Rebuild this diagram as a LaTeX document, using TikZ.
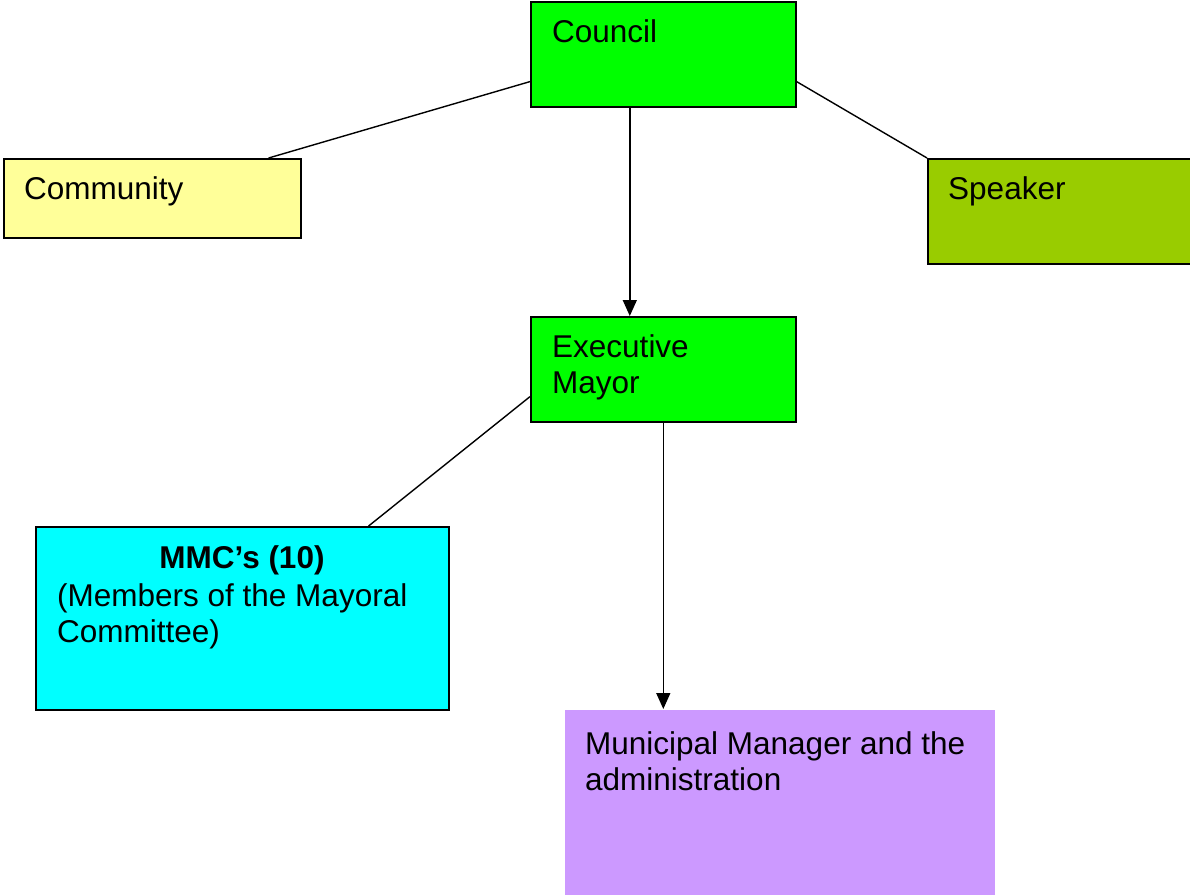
\documentclass[tikz,border=0pt]{standalone}
\usepackage{fontspec}
\setmainfont{Liberation Sans}
\usetikzlibrary{arrows.meta,calc}
\definecolor{cgreen}{HTML}{00FF00}
\definecolor{cyellow}{HTML}{FFFF99}
\definecolor{colive}{HTML}{99CC00}
\definecolor{ccyan}{HTML}{00FFFF}
\definecolor{clilac}{HTML}{CC99FF}
\begin{document}
\begin{tikzpicture}[x=1pt,y=-1pt,
  box/.style={rectangle,draw=black,line width=1.6pt,inner sep=0pt,anchor=north west},
  txt/.style={anchor=base west,inner sep=0pt,font=\fontsize{31.5}{36}\selectfont},
  link/.style={line width=1.4pt,draw=black},
  arr/.style={link,-{Triangle[length=16pt,width=14pt]}}]
\useasboundingbox (0,0) rectangle (1190,894);
% boxes
\node[box,fill=cgreen,minimum width=265pt,minimum height=105pt] (council) at (530,1) {};
\node[box,fill=cyellow,minimum width=297pt,minimum height=79pt] (community) at (3,158) {};
\node[box,fill=colive,minimum width=263pt,minimum height=105pt] (speaker) at (927,158) {};
\node[box,fill=cgreen,minimum width=265pt,minimum height=105pt] (exec) at (530,316) {};
\node[box,fill=ccyan,minimum width=413pt,minimum height=183pt] (mmc) at (35,526) {};
\node[box,draw=none,fill=clilac,minimum width=430pt,minimum height=190pt] (muni) at (564,709) {};
% texts
\node[txt] (tcouncil) at (552,42) {Council};
\node[txt] (tcommunity) at (24,199) {Community};
\node[txt] (tspeaker) at (948,199) {Speaker};
\node[txt] (texec1) at (552,357) {Executive};
\node[txt] (texec2) at (552,393) {Mayor};
\node[txt,anchor=base] (tmmc1) at (242,568) {\bfseries MMC’s (10)};
\node[txt] (tmmc2) at (57,606) {(Members of the Mayoral};
\node[txt] (tmmc3) at (57,642) {Committee)};
\node[txt] (tmuni1) at (585,754) {Municipal Manager and the};
\node[txt] (tmuni2) at (585,790) {administration};
% connectors
\draw[link] ([yshift=26pt]council.south west) -- ([xshift=-33pt]community.north east);
\draw[link] ([yshift=26pt]council.south east) -- (speaker.north west);
\draw[arr] ([xshift=-33.5pt]council.south) -- ([xshift=-33.5pt]exec.north);
\draw[link] ([yshift=26pt]exec.south west) -- ([xshift=-81pt]mmc.north east);
\draw[arr] (exec.south) -- (exec.south |- muni.north);
\end{tikzpicture}
\end{document}
